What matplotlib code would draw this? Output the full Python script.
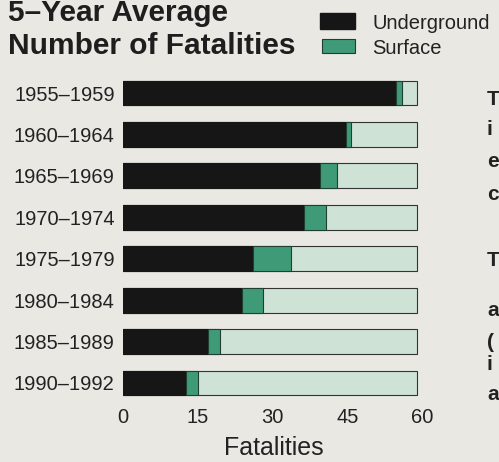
import matplotlib.pyplot as plt
from matplotlib.patches import Rectangle

periods = ['1955–1959', '1960–1964', '1965–1969', '1970–1974',
           '1975–1979', '1980–1984', '1985–1989', '1990–1992']
underground = [54.8, 44.7, 39.6, 36.3, 26.1, 23.8, 17.0, 12.6]
surface = [1.2, 1.0, 3.3, 4.4, 7.6, 4.3, 2.5, 2.5]
box_max = 59
ticks = [0, 15, 30, 45, 60]

bg = '#e9e8e3'
dark = '#161616'
green = '#3f9a78'
light = '#cfe2d6'

plt.rcParams['font.family'] = ['Liberation Sans', 'DejaVu Sans']

fig = plt.figure(figsize=(4.99, 4.62), dpi=100)
fig.patch.set_facecolor(bg)
ax = fig.add_axes([123 / 499, 1 - 403.7 / 462, (422 - 123) / 499, (403.7 - 72.3) / 462])
ax.set_facecolor(bg)

pos = list(range(len(periods)))
ax.barh(pos, [box_max] * len(pos), height=0.6, color=light, edgecolor='#333333', linewidth=0.8)
ax.barh(pos, underground, height=0.6, color=dark, edgecolor=dark, linewidth=0.8)
ax.barh(pos, surface, left=underground, height=0.6, color=green, edgecolor='#1f3f33', linewidth=0.8)

ax.set_xlim(0, 60)
ax.set_ylim(len(periods) - 0.5, -0.5)
ax.set_yticks(pos)
ax.set_yticklabels(periods, fontsize=14.5, color='#222222')
ax.set_xticks(ticks)
ax.set_xticklabels([str(t) for t in ticks], fontsize=14.5, color='#222222')
ax.tick_params(axis='both', length=0)
ax.tick_params(axis='y', pad=6)
ax.tick_params(axis='x', pad=3)
for s in ax.spines.values():
    s.set_visible(False)

fig.text(274 / 499, 1 - 455 / 462, 'Fatalities', fontsize=18, ha='center', va='baseline', color='#222222')

# title
fig.text(8 / 499, 1 - 21 / 462, '5–Year Average', fontsize=21.5, fontweight='bold',
         va='baseline', color='#1e1e1e')
fig.text(8 / 499, 1 - 54 / 462, 'Number of Fatalities', fontsize=21.5, fontweight='bold',
         va='baseline', color='#1e1e1e')

# legend
fig.patches.append(Rectangle((320 / 499, 1 - 29 / 462), 35 / 499, 16 / 462,
                             transform=fig.transFigure, facecolor=dark, edgecolor=dark))
fig.patches.append(Rectangle((322 / 499, 1 - 53 / 462), 33 / 499, 14 / 462,
                             transform=fig.transFigure, facecolor=green, edgecolor='#1f3f33', linewidth=0.8))
fig.text(372 / 499, 1 - 29 / 462, 'Underground', fontsize=14.5, va='baseline', color='#222222')
fig.text(372 / 499, 1 - 54 / 462, 'Surface', fontsize=14.5, va='baseline', color='#222222')

# body text letters showing at the right edge
edge_chars = ['T', 'i', 'e', 'c', 'T', 'a', '(', 'i', 'a']
edge_y = [105, 135, 167, 200, 266, 316, 348, 370, 400]
for ch, y in zip(edge_chars, edge_y):
    fig.text(487 / 499, 1 - y / 462, ch, fontsize=15, fontweight='bold', va='baseline', color='#222222')

fig.savefig('out.png', dpi=100, facecolor=bg)
